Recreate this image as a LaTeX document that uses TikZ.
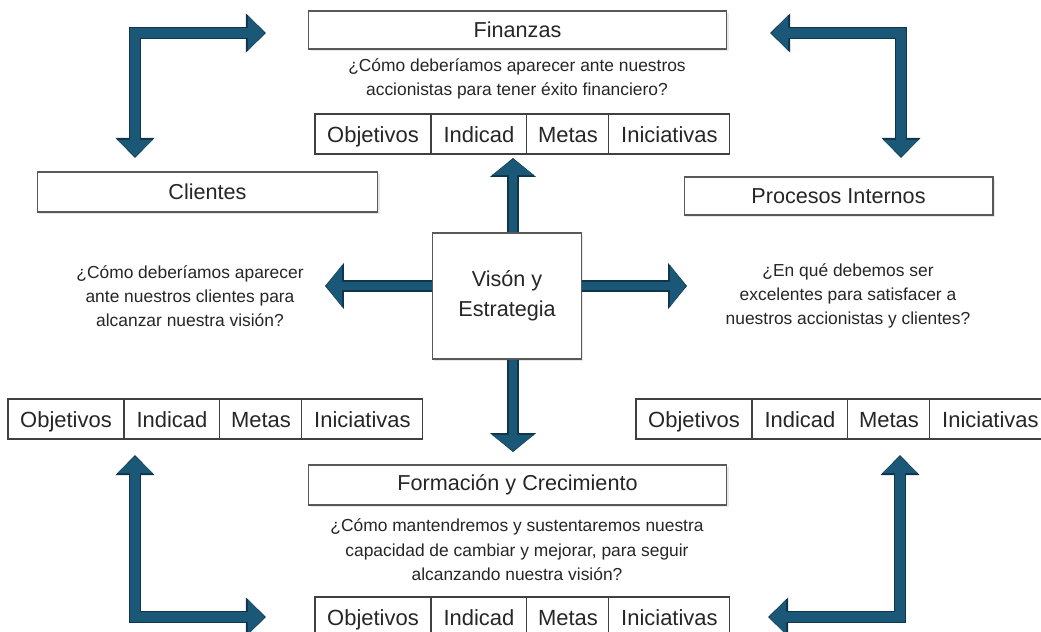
\documentclass[tikz,border=0pt]{standalone}
\usepackage{fontspec}
\setmainfont{Liberation Sans}
\usetikzlibrary{positioning,arrows.meta,shadows}
\definecolor{azul}{RGB}{27,88,120}
\definecolor{borde}{RGB}{16,52,74}
\definecolor{texto}{RGB}{38,38,38}

% fila de 4 celdas: nombre, x, y (esquina superior izquierda)
\newcommand\fila[3]{%
	\node[celda,minimum width=2.32cm,anchor=north west] (#1o) at (#2,#3) {Objetivos};
	\node[celda,minimum width=1.92cm,right=0pt of #1o] (#1i) {Indicad};
	\node[celda,minimum width=1.64cm,right=0pt of #1i] (#1m) {Metas};
	\node[celda,minimum width=2.42cm,right=0pt of #1m] (#1c) {Iniciativas};}

\begin{document}
\begin{tikzpicture}[x=0.02cm, y=-0.02cm, font=\fontsize{9.9}{13.4}\selectfont, line join=miter, text=texto,
	caja/.style={draw=black!65, fill=white, line width=0.6pt, inner sep=0pt,
		drop shadow={shadow xshift=0.9pt, shadow yshift=-1pt, opacity=.18}, font=\fontsize{12.3}{17}\selectfont},
	celda/.style={draw=black!75, fill=white, line width=0.6pt, outer sep=0pt, inner sep=0pt,
		minimum height=0.8cm, text height=10.6pt, text depth=0.6pt, font=\fontsize{12.5}{15}\selectfont},
	codo/.style={draw=azul, line width=5.7pt, shorten <=0.7pt, shorten >=0.7pt,
		{Triangle[length=9.6pt,width=19.3pt]}-{Triangle[length=9.6pt,width=19.3pt]},
		preaction={draw=borde, line width=7.3pt, shorten <=0pt, shorten >=0pt,
			{Triangle[length=11.4pt,width=21.5pt]}-{Triangle[length=11.4pt,width=21.5pt]}}},
	recta/.style={draw=azul, line width=5.1pt, shorten >=0.7pt,
		-{Triangle[length=9pt,width=23.5pt]},
		preaction={draw=borde, line width=6.7pt, shorten >=0pt,
			-{Triangle[length=10.8pt,width=25.7pt]}}}]
	\clip (0,0) rectangle (1041,632);
	\fill[white] (0,0) rectangle (1041,632);
	% perspectivas
	\node[caja, minimum width=8.38cm, minimum height=0.76cm] (fin) at (517.5,30) {Finanzas};
	\node[caja, minimum width=6.82cm, minimum height=0.8cm] (cli) at (207.5,192) {Clientes};
	\node[caja, minimum width=6.18cm, minimum height=0.76cm] (pro) at (838.5,196) {Procesos Internos};
	\node[caja, minimum width=8.38cm, minimum height=0.8cm] (for) at (517.5,485) {Formación y Crecimiento};
	\node[caja, minimum width=2.98cm, minimum height=2.52cm, align=center] (vis) at (507,296) {Visón y\\Estrategia};
	% preguntas
	\node[align=center] (qfin) at (517,79) {¿Cómo deberíamos aparecer ante nuestros\\accionistas para tener éxito financiero?};
	\node[align=center, font=\fontsize{9.9}{13.6}\selectfont] (qcli) at (190,296) {¿Cómo deberíamos aparecer\\ante nuestros clientes para\\alcanzar nuestra visión?};
	\node[align=center, font=\fontsize{9.9}{13.6}\selectfont] (qpro) at (848,296) {¿En qué debemos ser\\excelentes para satisfacer a\\nuestros accionistas y clientes?};
	\node[align=center, font=\fontsize{9.9}{13.9}\selectfont] (qfor) at (517,550) {¿Cómo mantendremos y sustentaremos nuestra\\capacidad de cambiar y mejorar, para seguir\\alcanzando nuestra visión?};
	% tablas
	\fila{ta}{315}{114}
	\fila{tb}{8}{399}
	\fila{tc}{636}{399}
	\fila{td}{315}{597}
	% flechas del centro
	\coordinate (pu) at (513,158);
	\coordinate (pd) at (513,452);
	\coordinate (pl) at (325,286);
	\coordinate (pr) at (687,286);
	\draw[recta] (vis.north -| pu) -- (pu);
	\draw[recta] (vis.south -| pd) -- (pd);
	\draw[recta] (vis.west |- pl) -- (pl);
	\draw[recta] (vis.east |- pr) -- (pr);
	% flechas en codo
	\coordinate (a1) at (135,158);
	\coordinate (a2) at (266,33);
	\coordinate (a3) at (770,33);
	\coordinate (a4) at (901,158);
	\coordinate (a5) at (135,455);
	\coordinate (a6) at (266,617);
	\coordinate (a7) at (768,617);
	\coordinate (a8) at (900,455);
	\draw[codo] (a1) |- (a2);
	\draw[codo] (a3) -| (a4);
	\draw[codo] (a5) |- (a6);
	\draw[codo] (a7) -| (a8);
\end{tikzpicture}
\end{document}
